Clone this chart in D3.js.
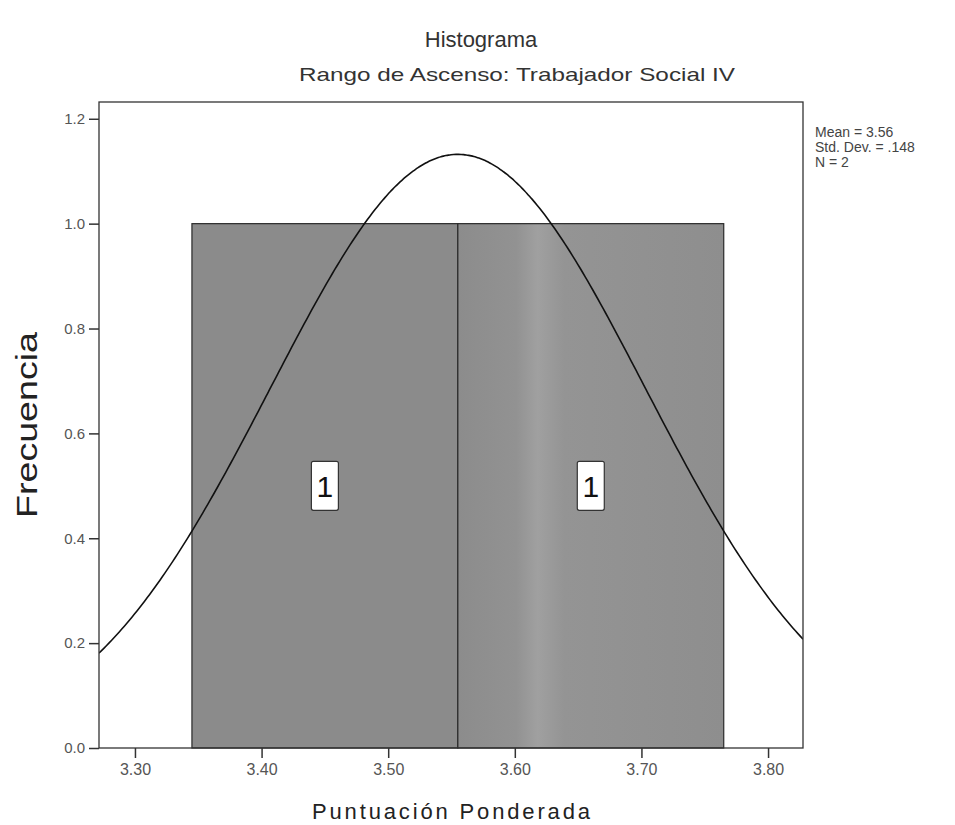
<!DOCTYPE html>
<html>
<head>
<meta charset="utf-8">
<script src="https://cdn.jsdelivr.net/npm/d3@7"></script>
<style>
  body { margin: 0; background: #fff; }
  text { font-family: "Liberation Sans", Arial, sans-serif; }
</style>
</head>
<body>
<div id="chart"></div>
<script>
// histogram bins (Puntuacion Ponderada) and counts
var binEdges = [3.345, 3.555, 3.765];
var counts = [1, 1];
// summary stats printed at the right
var mean = 3.555, stdDev = 0.148, nCases = 2;
var statLines = ["Mean = 3.56", "Std. Dev. = .148", "N = 2"];
var xTicks = [3.30, 3.40, 3.50, 3.60, 3.70, 3.80];
var yTicks = [0.0, 0.2, 0.4, 0.6, 0.8, 1.0, 1.2];

var width = 955, height = 825;
var pLeft = 99, pRight = 803, pTop = 102, pBottom = 748;

var svg = d3.select("#chart")
	.append("svg")
	.attr("width", width)
	.attr("height", height);

var x = d3.scaleLinear().domain([3.2716, 3.8276]).range([pLeft, pRight]);
var y = d3.scaleLinear().domain([0, 1.232]).range([pBottom, pTop]);

// gradient to mimic the lighter scanned band on the right bar
var defs = svg.append("defs");
var grad = defs.append("linearGradient")
	.attr("id", "barRight")
	.attr("x1", "0%").attr("x2", "100%").attr("y1", "0%").attr("y2", "0%");
grad.append("stop").attr("offset", "0%").attr("stop-color", "#8c8c8c");
grad.append("stop").attr("offset", "22%").attr("stop-color", "#929292");
grad.append("stop").attr("offset", "30%").attr("stop-color", "#a0a0a0");
grad.append("stop").attr("offset", "40%").attr("stop-color", "#949494");
grad.append("stop").attr("offset", "100%").attr("stop-color", "#8e8e8e");

defs.append("clipPath").attr("id", "plotClip")
	.append("rect")
	.attr("x", pLeft).attr("y", pTop)
	.attr("width", pRight - pLeft).attr("height", pBottom - pTop);

var bins = counts.map(function(c, i) { return {x0: binEdges[i], x1: binEdges[i + 1], count: c}; });

// bars
svg.selectAll(".bar")
	.data(bins)
	.enter()
	.append("rect")
	.attr("class", "bar")
	.attr("x", d => x(d.x0))
	.attr("y", d => y(d.count))
	.attr("width", d => x(d.x1) - x(d.x0))
	.attr("height", d => y(0) - y(d.count))
	.attr("fill", (d, i) => i == 1 ? "url(#barRight)" : "#8b8b8b")
	.attr("stroke", "#2a2a2a")
	.attr("stroke-width", 1.2);

// count labels in white boxes
var lab = svg.selectAll(".lab")
	.data(bins)
	.enter()
	.append("g")
	.attr("transform", d => "translate(" + x((d.x0 + d.x1) / 2) + "," + y(d.count / 2) + ")");
lab.append("rect")
	.attr("x", -13.5).attr("y", -24.5)
	.attr("width", 27).attr("height", 49)
	.attr("rx", 2)
	.attr("fill", "#fff")
	.attr("stroke", "#333")
	.attr("stroke-width", 1.2);
lab.append("text")
	.attr("text-anchor", "middle")
	.attr("y", 11)
	.attr("font-size", "30px")
	.attr("fill", "#111")
	.text(d => d.count);

// normal curve fitted from mean / sd
var binW = binEdges[1] - binEdges[0];
var curveX = d3.range(x.domain()[0], x.domain()[1] + 0.001, 0.002);
var normal = function(v) {
	return nCases * binW * Math.exp(-Math.pow(v - mean, 2) / (2 * stdDev * stdDev)) / (stdDev * Math.sqrt(2 * Math.PI));
};
var line = d3.line()
	.x(d => x(d))
	.y(d => y(normal(d)))
	.curve(d3.curveBasis);
svg.append("path")
	.datum(curveX)
	.attr("clip-path", "url(#plotClip)")
	.attr("fill", "none")
	.attr("stroke", "#111")
	.attr("stroke-width", 1.6)
	.attr("d", line);

// frame
svg.append("rect")
	.attr("x", pLeft).attr("y", pTop)
	.attr("width", pRight - pLeft).attr("height", pBottom - pTop)
	.attr("fill", "none")
	.attr("stroke", "#333")
	.attr("stroke-width", 1.3);

// axes
var yAxis = svg.append("g")
	.attr("transform", "translate(" + pLeft + ",0)")
	.call(d3.axisLeft(y).tickValues(yTicks).tickFormat(d3.format(".1f")).tickSize(10).tickPadding(4));
yAxis.select(".domain").remove();
yAxis.selectAll("line").attr("stroke", "#333").attr("stroke-width", 1.5);
yAxis.selectAll("text").attr("font-size", "15px").attr("fill", "#555").attr("font-family", "Liberation Sans, Arial, sans-serif");

var xAxis = svg.append("g")
	.attr("transform", "translate(0," + pBottom + ")")
	.call(d3.axisBottom(x).tickValues(xTicks).tickFormat(d3.format(".2f")).tickSize(10).tickPadding(6));
xAxis.select(".domain").remove();
xAxis.selectAll("line").attr("stroke", "#333").attr("stroke-width", 1.5);
xAxis.selectAll("text").attr("font-size", "16px").attr("fill", "#555").attr("font-family", "Liberation Sans, Arial, sans-serif");

// titles
svg.append("text")
	.attr("x", 481).attr("y", 47)
	.attr("text-anchor", "middle")
	.attr("font-size", "22px")
	.attr("fill", "#333")
	.text("Histograma");

svg.append("text")
	.attr("x", 517).attr("y", 81)
	.attr("text-anchor", "middle")
	.attr("font-size", "19px")
	.attr("fill", "#333")
	.attr("textLength", 436)
	.attr("lengthAdjust", "spacingAndGlyphs")
	.style("font-family", "'Liberation Sans Narrow', 'Liberation Sans', sans-serif")
	.text("Rango  de Ascenso: Trabajador Social IV");

svg.append("text")
	.attr("transform", "translate(37,425) rotate(-90)")
	.attr("text-anchor", "middle")
	.attr("font-size", "29px")
	.attr("fill", "#222")
	.attr("textLength", 186)
	.attr("lengthAdjust", "spacingAndGlyphs")
	.text("Frecuencia");

svg.append("text")
	.attr("x", 451).attr("y", 819)
	.attr("text-anchor", "middle")
	.attr("font-size", "22px")
	.attr("fill", "#222")
	.attr("textLength", 278)
	.attr("lengthAdjust", "spacing")
	.text("Puntuación Ponderada");

// stats text
svg.selectAll(".stat")
	.data(statLines)
	.enter()
	.append("text")
	.attr("x", 815)
	.attr("y", (d, i) => 137 + i * 15)
	.attr("font-size", "14px")
	.attr("fill", "#444")
	.text(d => d);
</script>
</body>
</html>
